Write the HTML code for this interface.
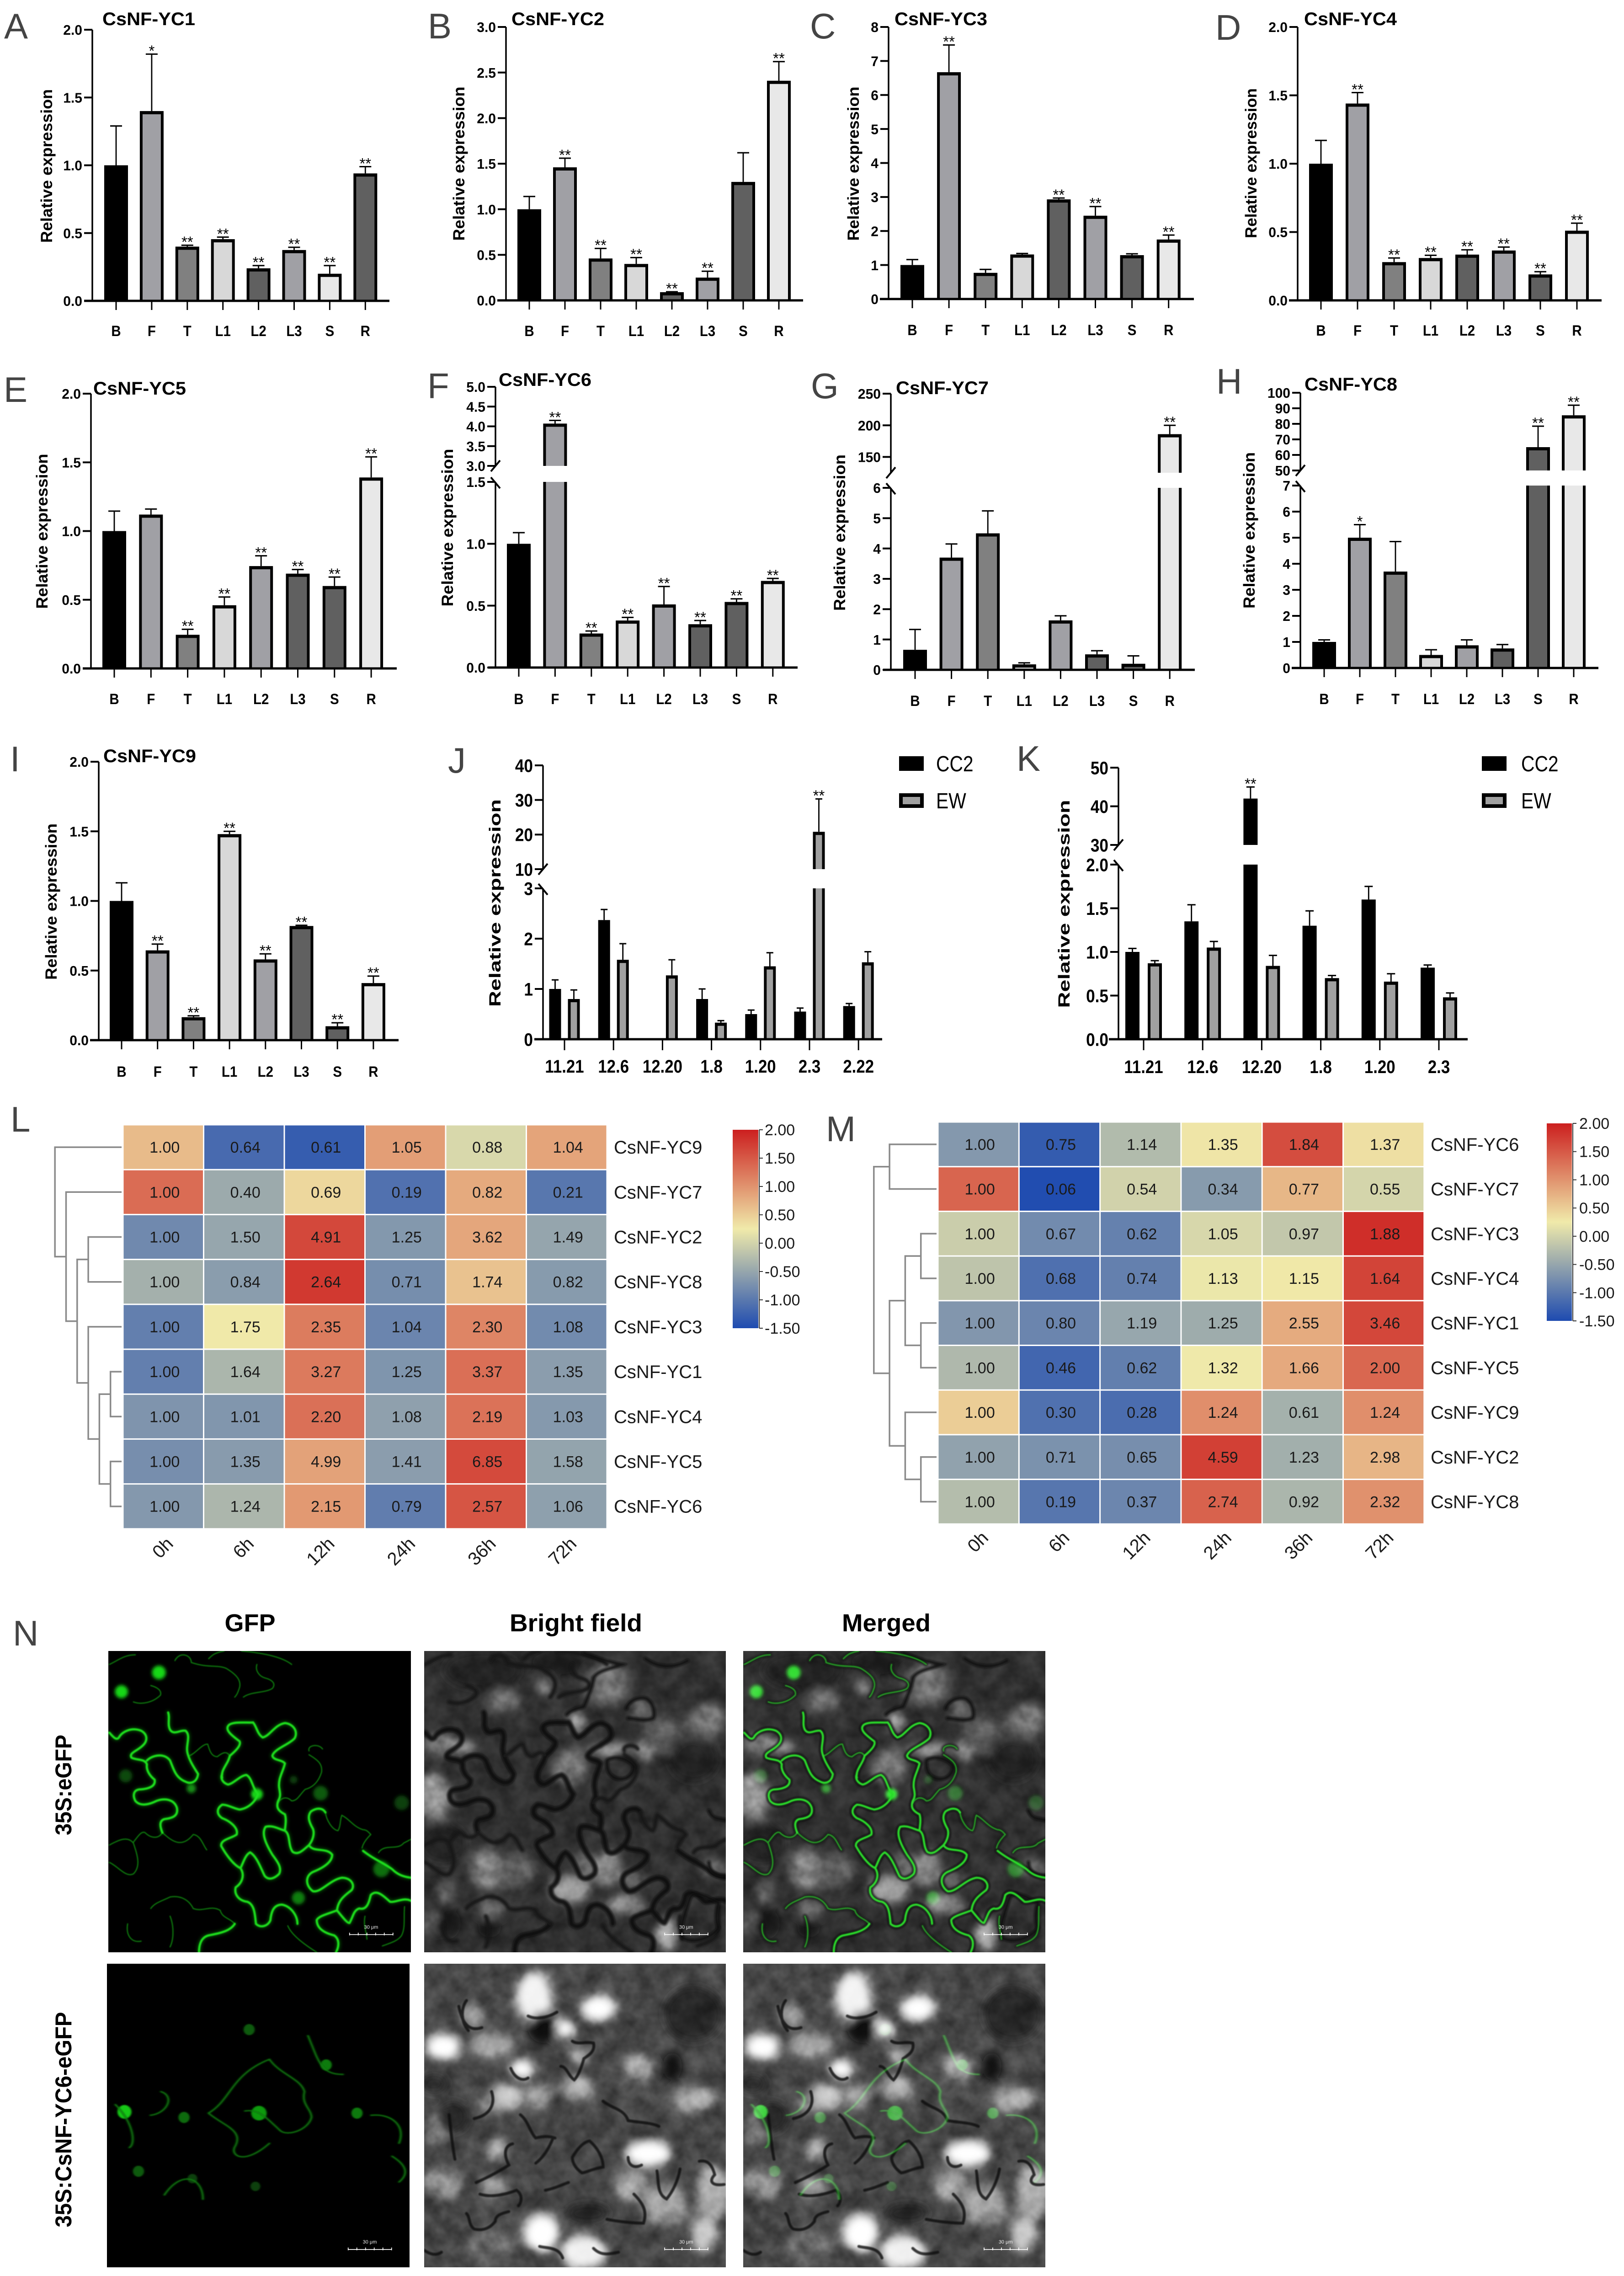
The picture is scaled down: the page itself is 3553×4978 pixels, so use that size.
<!DOCTYPE html>
<html lang="en">
<head>
<meta charset="utf-8">
<title>CsNF-YC expression panels</title>
<style>
html,body{margin:0;padding:0;background:#fff;width:3553px;height:4978px;overflow:hidden}
svg{display:block}
text{font-family:"Liberation Sans",Arial,sans-serif}
.mottle{mix-blend-mode:overlay;opacity:.3}
.screen{mix-blend-mode:screen}
</style>
</head>
<body>
<svg id="root" xmlns="http://www.w3.org/2000/svg" width="3553" height="4978" viewBox="0 0 3553 4978">
<defs>
<linearGradient id="heat-gradient" x1="0" y1="1" x2="0" y2="0">
<stop offset="0" stop-color="#1e4bb0"/><stop offset="0.5" stop-color="#f0eaaa"/><stop offset="1" stop-color="#cc1f1f"/>
</linearGradient>
<filter id="blur-sm" x="-5%" y="-5%" width="110%" height="110%"><feGaussianBlur stdDeviation="2.5"/></filter>
<filter id="blur-wall" x="-5%" y="-5%" width="110%" height="110%"><feGaussianBlur stdDeviation="5"/></filter>
<filter id="blur-md" x="-5%" y="-5%" width="110%" height="110%"><feGaussianBlur stdDeviation="9"/></filter>
<filter id="blur-lg" x="-10%" y="-10%" width="120%" height="120%"><feGaussianBlur stdDeviation="24"/></filter>
<filter id="blur-thin" x="-5%" y="-5%" width="110%" height="110%"><feGaussianBlur stdDeviation="1.4"/></filter>
<filter id="mottle-noise" x="0" y="0" width="100%" height="100%" color-interpolation-filters="sRGB">
<feTurbulence type="fractalNoise" baseFrequency="0.011" numOctaves="3" seed="7"/>
<feColorMatrix type="matrix" values="1.5 0 0 0 -0.25 1.5 0 0 0 -0.25 1.5 0 0 0 -0.25 0 0 0 0 1"/>
</filter>
<g id="gfp1-bright" fill="none" stroke-linecap="round">
<path d="M590 660C580 620 620 590 630 545C660 520 690 490 680 470C640 440 600 410 625 385C650 365 720 375 750 372C770 395 770 430 800 450C840 440 860 385 915 375C960 380 985 420 965 455C930 490 860 510 850 545C855 570 900 565 915 585C905 630 880 660 885 710C890 740 895 755 880 780C870 810 875 830 915 850C925 880 915 920 915 935C945 955 930 1010 955 1045C985 1065 1010 1035 1040 1010C1060 985 1070 950 1060 925C1040 890 1030 860 1050 835C1080 815 1110 815 1125 840"/>
<path d="M915 935C880 925 850 905 815 915C790 950 820 1010 850 1060C880 1100 900 1130 885 1160C860 1185 830 1195 810 1170C790 1130 770 1070 735 1048C710 1060 700 1100 685 1130C650 1115 610 1060 585 1015C580 980 640 975 665 955C675 920 630 885 590 870C560 850 560 820 590 800C620 800 650 820 680 825C720 820 760 790 775 745C745 710 745 660 715 645C680 650 650 690 620 695C590 685 580 660 590 640"/>
<path d="M5 425C20 440 40 470 55 450C70 420 120 395 170 415C205 435 205 470 175 495C150 520 105 530 120 555C150 570 190 560 200 590C195 620 215 650 240 670C245 700 220 715 170 720C130 720 125 750 140 780C165 810 210 800 250 780C290 765 340 770 355 815C365 860 330 870 290 875C260 885 270 920 280 945"/>
<path d="M200 570C230 540 290 530 320 570C340 620 350 660 400 680C430 695 460 680 465 640C440 600 420 570 410 530C400 490 430 440 400 415C370 410 340 440 320 410C305 380 320 350 310 320"/>
<path d="M1040 1010C1060 1050 1130 1020 1160 1060C1160 1100 1110 1130 1060 1150C1020 1170 1020 1220 1060 1250C1100 1260 1150 1190 1210 1180C1260 1180 1280 1220 1260 1245C1220 1275 1190 1300 1185 1350C1130 1370 1090 1380 1080 1400C1080 1450 1130 1470 1170 1480C1200 1500 1195 1540 1180 1568"/>
<path d="M685 1130C710 1170 690 1210 660 1230C650 1270 680 1300 720 1305C760 1320 760 1380 765 1420C790 1445 830 1430 840 1400C845 1350 860 1320 900 1320C950 1330 980 1380 980 1420"/>
<path d="M1185 1350C1210 1380 1240 1420 1250 1415C1270 1380 1270 1350 1300 1340C1340 1350 1350 1310 1360 1270C1390 1240 1420 1270 1460 1305C1490 1310 1530 1280 1568 1300"/>
<path d="M1320 1040C1370 1080 1420 1100 1470 1135C1500 1165 1530 1175 1568 1180"/>
<path d="M470 1568C470 1530 480 1490 520 1480C570 1470 630 1460 655 1420"/>
</g>
<g id="gfp1-dim" fill="none" stroke-linecap="round">
<path d="M5 70C50 50 80 20 140 20M130 265C170 280 230 270 270 230C280 200 240 185 220 180M345 50C370 0 430 20 430 60C520 90 560 70 610 90C660 120 690 150 680 190C670 220 665 230 655 240M770 70C760 100 780 130 810 140C850 150 870 170 850 195C810 220 740 210 700 240M600 0C550 10 540 20 520 40M690 0C800 10 900 30 950 70"/>
<path d="M420 545C450 535 490 480 515 485C525 520 535 550 565 550C590 530 610 520 625 540"/>
<path d="M1125 840C1130 880 1160 930 1190 935C1205 910 1200 880 1210 855C1250 875 1270 915 1320 930C1340 930 1350 945 1360 955C1340 975 1320 1000 1315 1025"/>
<path d="M1040 520C1030 490 1090 480 1110 510M1040 540C1090 570 1110 590 1105 630C1090 680 1060 710 1020 720C990 750 980 780 950 780C920 750 890 770 880 790"/>
<path d="M5 1010C50 985 100 960 130 1000C150 1060 170 1120 130 1160C90 1180 50 1120 5 1100M280 945C260 980 220 975 190 945C170 935 150 970 130 995M280 945C330 990 380 1030 440 955C480 960 490 1010 510 1035"/>
<path d="M655 1420C630 1390 590 1390 580 1350C530 1320 490 1360 440 1340C420 1300 380 1270 320 1280C280 1300 240 1310 220 1340M320 1380C340 1430 340 1500 320 1540"/>
<path d="M1330 1380C1320 1430 1340 1470 1340 1500M1535 1330C1530 1390 1540 1440 1520 1480C1500 1510 1460 1520 1420 1535M1400 1050C1430 1000 1500 1040 1530 1000L1568 980M930 1430C950 1480 1020 1530 1080 1568M100 1420C90 1480 120 1520 170 1510"/>
</g>
<g id="gfp1-nuclei">
<circle cx="262" cy="112" r="36" fill="#18d818"/><circle cx="68" cy="212" r="34" fill="#18d818"/><circle cx="770" cy="745" r="30" fill="#1ee81e"/>
<circle cx="430" cy="715" r="24" fill="#158f15"/><circle cx="985" cy="1285" r="34" fill="#0f7f0f"/><circle cx="90" cy="650" r="34" fill="#0a4a0a"/>
<circle cx="1100" cy="740" r="38" fill="#0a5a0a"/><circle cx="1520" cy="790" r="38" fill="#083f08"/><circle cx="1415" cy="1135" r="42" fill="#0c700c"/><circle cx="960" cy="670" r="20" fill="#083f08"/>
</g>
<g id="gfp2-lines" fill="none" stroke-linecap="round">
<path d="M298 1190C330 1160 330 1100 385 1065C400 1100 430 1110 435 1140C430 1170 445 1180 445 1200C440 1230 410 1245 400 1230C380 1200 370 1180 350 1185M298 1190C320 1220 350 1230 335 1270C330 1290 350 1310 385 1260"/>
<path d="M230 1140C250 1150 240 1190 215 1195M165 1170C190 1210 195 1260 185 1270M235 1380C260 1320 290 1340 290 1390M530 1195C560 1190 580 1220 570 1260M560 1290C580 1310 585 1330 570 1350M440 1010L450 1050C460 1090 470 1100 490 1100"/>
</g>
<g id="gfp2-nuclei">
<ellipse cx="178" cy="1187" rx="10" ry="16" fill="#14c814"/><ellipse cx="263" cy="1200" rx="8" ry="13" fill="#0c6a0c"/><ellipse cx="370" cy="1190" rx="11" ry="17" fill="#0f9a0f"/>
<ellipse cx="510" cy="1190" rx="8" ry="13" fill="#0c7a0c"/><ellipse cx="466" cy="1078" rx="8" ry="13" fill="#0c7a0c"/><ellipse cx="356" cy="996" rx="8" ry="13" fill="#0a5a0a"/>
<ellipse cx="198" cy="1325" rx="8" ry="13" fill="#0a5a0a"/><ellipse cx="275" cy="1342" rx="7" ry="11" fill="#083f08"/><ellipse cx="365" cy="1360" rx="7" ry="11" fill="#083f08"/>
</g>
<g id="bright1-blobs" filter="url(#blur-lg)" opacity="0.7">
<ellipse cx="50" cy="760" rx="90" ry="120" fill="#b8b8b8"/><ellipse cx="90" cy="490" rx="90" ry="50" fill="#b0b0b0"/><ellipse cx="200" cy="500" rx="70" ry="30" fill="#c8c8c8"/>
<ellipse cx="800" cy="370" rx="40" ry="55" fill="#d0d0d0"/><ellipse cx="620" cy="180" rx="40" ry="45" fill="#aaa"/><ellipse cx="760" cy="600" rx="90" ry="100" fill="#909090"/>
<ellipse cx="410" cy="260" rx="90" ry="50" fill="#8c8c8c"/><ellipse cx="340" cy="1130" rx="110" ry="100" fill="#a0a0a0"/><ellipse cx="480" cy="1150" rx="100" ry="100" fill="#6c6c6c"/>
<ellipse cx="950" cy="1130" rx="80" ry="90" fill="#b0b0b0"/><ellipse cx="760" cy="1240" rx="110" ry="70" fill="#d4d4d4"/><ellipse cx="1050" cy="1320" rx="90" ry="50" fill="#c4c4c4"/>
<ellipse cx="1130" cy="310" rx="60" ry="50" fill="#8c8c8c"/><ellipse cx="960" cy="510" rx="100" ry="30" fill="#d0d0d0"/><ellipse cx="1150" cy="520" rx="50" ry="50" fill="#b0b0b0"/>
<ellipse cx="1470" cy="360" rx="90" ry="90" fill="#8c8c8c"/><ellipse cx="1280" cy="440" rx="150" ry="100" fill="#666"/><ellipse cx="950" cy="170" rx="120" ry="120" fill="#808080"/>
<ellipse cx="830" cy="1120" rx="40" ry="70" fill="#909090"/><ellipse cx="1260" cy="1480" rx="50" ry="90" fill="#e8e8e8"/><ellipse cx="1100" cy="1190" rx="60" ry="40" fill="#808080"/>
<ellipse cx="1500" cy="1130" rx="70" ry="40" fill="#7c7c7c"/><ellipse cx="350" cy="1340" rx="70" ry="50" fill="#7c7c7c"/><ellipse cx="30" cy="1410" rx="50" ry="50" fill="#909090"/><ellipse cx="110" cy="1260" rx="50" ry="50" fill="#808080"/>
<ellipse cx="1400" cy="560" rx="130" ry="120" fill="#1c1c1c"/><ellipse cx="300" cy="100" rx="200" ry="100" fill="#1c1c1c"/><ellipse cx="700" cy="60" rx="140" ry="60" fill="#111"/>
<ellipse cx="120" cy="1420" rx="70" ry="80" fill="#111"/><ellipse cx="340" cy="1440" rx="60" ry="50" fill="#111"/><ellipse cx="100" cy="1000" rx="120" ry="100" fill="#222"/>
</g>
<g id="bright1-extra-walls" fill="none" stroke="#0c0c0c" stroke-width="18" stroke-linecap="round" opacity="0.85" filter="url(#blur-wall)">
<path d="M1050 300C1060 260 1120 230 1160 250C1200 280 1200 340 1190 350C1140 370 1090 350 1060 350M830 10C900 40 980 60 1030 70C980 90 900 100 880 140C870 200 850 240 830 290C780 300 760 310 740 330M1150 40C1220 90 1300 90 1370 50"/>
<path d="M950 570C990 540 1060 560 1090 600C1090 650 1040 680 990 660C950 640 950 600 950 570M1380 1290C1400 1240 1450 1270 1530 1310C1520 1350 1510 1400 1530 1440C1500 1490 1400 1530 1340 1490C1330 1440 1350 1380 1380 1290M1480 830C1500 880 1530 870 1568 880M1480 1100C1480 1150 1520 1170 1568 1170"/>
</g>
<g id="bright2-blobs" filter="url(#blur-lg)">
<ellipse cx="100" cy="430" rx="90" ry="70" fill="#fff"/><ellipse cx="570" cy="170" rx="95" ry="130" fill="#f4f4f4"/><ellipse cx="730" cy="335" rx="50" ry="50" fill="#fff"/>
<ellipse cx="905" cy="230" rx="90" ry="70" fill="#fff"/><ellipse cx="510" cy="545" rx="65" ry="50" fill="#fff"/><ellipse cx="1165" cy="980" rx="120" ry="70" fill="#fff"/>
<ellipse cx="610" cy="1390" rx="95" ry="100" fill="#fff"/><ellipse cx="830" cy="1490" rx="120" ry="90" fill="#f0f0f0"/><ellipse cx="1450" cy="1400" rx="70" ry="90" fill="#ccc"/>
<ellipse cx="1400" cy="700" rx="120" ry="60" fill="#b0b0b0"/><ellipse cx="420" cy="690" rx="80" ry="70" fill="#d0d0d0"/><ellipse cx="800" cy="640" rx="80" ry="60" fill="#bbb"/>
<ellipse cx="800" cy="470" rx="50" ry="50" fill="#a0a0a0"/><ellipse cx="590" cy="680" rx="70" ry="60" fill="#b0b0b0"/><ellipse cx="1110" cy="540" rx="80" ry="70" fill="#a0a0a0"/>
<ellipse cx="1500" cy="1180" rx="90" ry="140" fill="#b0b0b0"/><ellipse cx="1080" cy="1140" rx="100" ry="80" fill="#a0a0a0"/><ellipse cx="350" cy="420" rx="120" ry="60" fill="#b0b0b0"/>
<ellipse cx="250" cy="270" rx="60" ry="60" fill="#a0a0a0"/><ellipse cx="380" cy="960" rx="50" ry="60" fill="#b0b0b0"/><ellipse cx="360" cy="1150" rx="70" ry="40" fill="#b0b0b0"/>
<ellipse cx="1250" cy="1250" rx="120" ry="100" fill="#a0a0a0"/><ellipse cx="100" cy="1130" rx="100" ry="80" fill="#8c8c8c"/><ellipse cx="350" cy="1460" rx="130" ry="90" fill="#6c6c6c"/>
<ellipse cx="60" cy="870" rx="50" ry="90" fill="#7c7c7c"/><ellipse cx="320" cy="720" rx="50" ry="50" fill="#7c7c7c"/>
<ellipse cx="1400" cy="260" rx="150" ry="140" fill="#262626"/><ellipse cx="620" cy="330" rx="80" ry="80" fill="#111"/><ellipse cx="1290" cy="530" rx="50" ry="70" fill="#111"/>
<ellipse cx="150" cy="790" rx="80" ry="80" fill="#262626"/><ellipse cx="850" cy="1290" rx="110" ry="50" fill="#222"/><ellipse cx="50" cy="620" rx="70" ry="50" fill="#262626"/>
</g>
<g id="bright2-walls" fill="none" stroke="#101010" stroke-width="15" stroke-linecap="round" opacity="0.8" filter="url(#blur-sm)">
<path d="M270 1130C340 1100 410 1060 440 1040C410 980 420 940 460 930M290 1190C350 1210 430 1190 480 1170C510 1190 510 1230 490 1250M220 1290C240 1310 230 1350 260 1370C300 1380 340 1370 370 1330C370 1300 400 1290 440 1280"/>
<path d="M580 1030C620 1000 650 950 670 900M770 1000C800 950 830 920 860 915C900 950 930 1000 930 1050C870 1060 840 1080 820 1080C790 1060 770 1030 770 1000M930 710C980 750 1040 750 1060 810C1110 820 1180 820 1220 840"/>
<path d="M1210 1070C1220 1130 1210 1190 1260 1215C1290 1180 1320 1120 1330 1060M1430 1020C1480 1010 1500 1050 1510 1090C1480 1120 1490 1150 1560 1140M1090 1190C1140 1240 1160 1280 1140 1340C1080 1340 1000 1330 950 1320"/>
<path d="M630 1170C680 1160 720 1140 750 1130M450 540C470 590 510 610 540 590M180 220C200 320 240 350 300 330M770 400C800 420 840 400 880 410C890 450 860 470 830 490C820 530 800 580 780 600C750 580 740 530 710 530M0 1480C30 1500 60 1510 90 1490"/>
<path d="M220 190C190 230 190 300 230 345M540 270C580 290 640 280 690 250M500 780C540 810 550 870 580 900C620 890 650 890 680 900M350 660C370 720 350 780 260 800M130 780C140 880 150 960 160 1010M1060 1000C1060 1040 1090 1060 1130 1040M600 1460C630 1470 700 1460 720 1520M880 1470C920 1510 960 1500 1010 1490"/>
</g>
<g id="scale-ticks" stroke="#fff" stroke-width="4" fill="none">
<path d="M1250 1476H1475M1250 1466V1480M1295 1466V1480M1340 1466V1480M1385 1466V1480M1430 1466V1480M1475 1466V1480"/>
</g>
</defs>

<g id="charts"></g>

<g>
<text x="28" y="3599" font-size="78" fill="#444">N</text>
<text x="547" y="3568" font-size="54" font-weight="700" text-anchor="middle">GFP</text>
<text x="1260" y="3568" font-size="54" font-weight="700" text-anchor="middle" textLength="290" lengthAdjust="spacingAndGlyphs">Bright field</text>
<text x="1939" y="3568" font-size="54" font-weight="700" text-anchor="middle" textLength="194" lengthAdjust="spacingAndGlyphs">Merged</text>
<text transform="translate(156,3904) rotate(-90)" font-size="50" font-weight="700" text-anchor="middle" textLength="220" lengthAdjust="spacingAndGlyphs">35S:eGFP</text>
<text transform="translate(156,4636) rotate(-90)" font-size="50" font-weight="700" text-anchor="middle" textLength="471" lengthAdjust="spacingAndGlyphs">35S:CsNF-YC6-eGFP</text>

<svg x="237" y="3611" width="662" height="659" viewBox="0 0 1568 1568" preserveAspectRatio="none">
<rect width="1568" height="1568" fill="#000"/>
<use href="#gfp1-nuclei" filter="url(#blur-md)"/>
<use href="#gfp1-dim" stroke="#0b7d0b" stroke-width="6" filter="url(#blur-sm)"/>
<use href="#gfp1-bright" stroke="#0da00d" stroke-width="20" opacity="0.5" filter="url(#blur-md)"/>
<use href="#gfp1-bright" stroke="#1ee01e" stroke-width="11" filter="url(#blur-sm)"/>
<use href="#scale-ticks"/>
<text x="1362" y="1445" font-size="26" fill="#eee" text-anchor="middle">30 μm</text>
</svg>

<svg x="928" y="3611" width="660" height="659" viewBox="0 0 1568 1568" preserveAspectRatio="none">
<g style="isolation:isolate">
<rect width="1568" height="1568" fill="#303030"/>
<use href="#bright1-blobs"/>
<rect class="mottle" width="1568" height="1568" filter="url(#mottle-noise)"/>
<g filter="url(#blur-wall)" opacity="0.9"><use href="#gfp1-bright" stroke="#0a0a0a" stroke-width="26"/><use href="#gfp1-dim" stroke="#121212" stroke-width="20"/></g>
<use href="#bright1-extra-walls"/>
</g>
<use href="#scale-ticks"/>
<text x="1362" y="1445" font-size="26" fill="#eee" text-anchor="middle">30 μm</text>
</svg>

<svg x="1626" y="3611" width="661" height="659" viewBox="0 0 1568 1568" preserveAspectRatio="none">
<g style="isolation:isolate">
<rect width="1568" height="1568" fill="#303030"/>
<use href="#bright1-blobs"/>
<rect class="mottle" width="1568" height="1568" filter="url(#mottle-noise)"/>
<g filter="url(#blur-wall)" opacity="0.9"><use href="#gfp1-bright" stroke="#0a0a0a" stroke-width="26"/><use href="#gfp1-dim" stroke="#121212" stroke-width="20"/></g>
<use href="#bright1-extra-walls"/>
<g class="screen">
<use href="#gfp1-nuclei" filter="url(#blur-md)"/>
<use href="#gfp1-dim" stroke="#0d9a0d" stroke-width="7" filter="url(#blur-sm)"/>
<use href="#gfp1-bright" stroke="#1ed81e" stroke-width="11" filter="url(#blur-sm)"/>
</g>
</g>
<use href="#scale-ticks"/>
<text x="1362" y="1445" font-size="26" fill="#eee" text-anchor="middle">30 μm</text>
</svg>

<svg x="234" y="4295" width="662" height="664" viewBox="153 843 432 705" preserveAspectRatio="none">
<rect x="153" y="843" width="432" height="705" fill="#000"/>
<use href="#gfp2-nuclei" filter="url(#blur-thin)"/>
<use href="#gfp2-lines" stroke="#0a780a" stroke-width="3" filter="url(#blur-thin)"/>
<g transform="translate(153,843) scale(0.2755,0.4496)">
<use href="#scale-ticks"/>
<text x="1362" y="1445" font-size="26" fill="#eee" text-anchor="middle">30 μm</text>
</g>
</svg>

<svg x="928" y="4295" width="660" height="664" viewBox="0 0 1568 1568" preserveAspectRatio="none">
<g style="isolation:isolate">
<rect width="1568" height="1568" fill="#464646"/>
<use href="#bright2-blobs"/>
<rect class="mottle" width="1568" height="1568" filter="url(#mottle-noise)"/>
<use href="#bright2-walls"/>
</g>
<use href="#scale-ticks"/>
<text x="1362" y="1445" font-size="26" fill="#eee" text-anchor="middle">30 μm</text>
</svg>

<svg x="1626" y="4295" width="661" height="664" viewBox="0 0 1568 1568" preserveAspectRatio="none">
<g style="isolation:isolate">
<rect width="1568" height="1568" fill="#464646"/>
<use href="#bright2-blobs"/>
<rect class="mottle" width="1568" height="1568" filter="url(#mottle-noise)"/>
<use href="#bright2-walls"/>
<g class="screen" transform="scale(3.6296,2.2241) translate(-153,-843)">
<use href="#gfp2-nuclei" filter="url(#blur-thin)"/>
<use href="#gfp2-lines" stroke="#0d8d0d" stroke-width="3" filter="url(#blur-thin)"/>
</g>
</g>
<use href="#scale-ticks"/>
<text x="1362" y="1445" font-size="26" fill="#eee" text-anchor="middle">30 μm</text>
</svg>
</g>
</svg>

<script>
// ---------- chart data ----------
const tissueCategories = ['B','F','T','L1','L2','L3','S','R'];
const groupDatesJ = ['11.21','12.6','12.20','1.8','1.20','2.3','2.22'];
const groupDatesK = ['11.21','12.6','12.20','1.8','1.20','2.3'];
const seriesNames = ['CC2','EW'];

const yc1Values = [1.0,1.4,0.4,0.455,0.24,0.375,0.2,0.94];
const yc1Errors = [1.29,1.82,0.41,0.47,0.26,0.395,0.26,0.99];
const yc1Stars = ['','*','**','**','**','**','**','**'];
const yc1Ticks = ['0.0','0.5','1.0','1.5','2.0'];

const yc2Values = [1.0,1.46,0.46,0.4,0.09,0.25,1.3,2.41];
const yc2Errors = [1.14,1.56,0.57,0.47,0.095,0.32,1.62,2.62];
const yc2Stars = ['','**','**','**','**','**','','**'];
const yc2Ticks = ['0.0','0.5','1.0','1.5','2.0','2.5','3.0'];

const yc3Values = [1.0,6.67,0.77,1.31,2.93,2.45,1.29,1.75];
const yc3Errors = [1.16,7.47,0.87,1.34,2.97,2.72,1.33,1.88];
const yc3Stars = ['','**','','','**','**','','**'];
const yc3Ticks = ['0','1','2','3','4','5','6','7','8'];

const yc4Values = [1.0,1.44,0.28,0.31,0.335,0.365,0.19,0.51];
const yc4Errors = [1.17,1.52,0.31,0.33,0.37,0.39,0.21,0.565];
const yc4Stars = ['','**','**','**','**','**','**','**'];
const yc4Ticks = ['0.0','0.5','1.0','1.5','2.0'];

const yc5Values = [1.0,1.12,0.245,0.46,0.745,0.69,0.6,1.39];
const yc5Errors = [1.145,1.16,0.285,0.52,0.82,0.72,0.665,1.54];
const yc5Stars = ['','','**','**','**','**','**','**'];
const yc5Ticks = ['0.0','0.5','1.0','1.5','2.0'];

const yc6Values = [1.0,4.07,0.275,0.38,0.51,0.35,0.53,0.7];
const yc6Errors = [1.09,4.15,0.295,0.405,0.655,0.38,0.555,0.72];
const yc6Stars = ['','**','**','**','**','**','**','**'];
const yc6LowerTicks = ['0.0','0.5','1.0','1.5'];
const yc6UpperTicks = ['3.0','3.5','4.0','4.5','5.0'];

const yc7Values = [0.66,3.7,4.5,0.18,1.63,0.51,0.2,186];
const yc7Errors = [1.33,4.15,5.24,0.23,1.78,0.63,0.46,200];
const yc7Stars = ['','','','','','','','**'];
const yc7LowerTicks = ['0','1','2','3','4','5','6'];
const yc7UpperTicks = ['150','200','250'];

const yc8Values = [1.0,5.0,3.7,0.5,0.87,0.75,65,85.5];
const yc8Errors = [1.08,5.5,4.85,0.7,1.08,0.9,78.5,92];
const yc8Stars = ['','*','','','','','**','**'];
const yc8LowerTicks = ['0','1','2','3','4','5','6','7'];
const yc8UpperTicks = ['50','60','70','80','90','100'];

const yc9Values = [1.0,0.645,0.165,1.48,0.58,0.82,0.1,0.41];
const yc9Errors = [1.13,0.69,0.175,1.5,0.62,0.825,0.125,0.46];
const yc9Stars = ['','**','**','**','**','**','**','**'];
const yc9Ticks = ['0.0','0.5','1.0','1.5','2.0'];

const jCc2Values = [1.0,2.37,0,0.8,0.5,0.55,0.66];
const jCc2Errors = [1.18,2.58,0,1.0,0.58,0.62,0.71];
const jEwValues = [0.8,1.58,1.27,0.33,1.45,20.8,1.53];
const jEwErrors = [0.98,1.9,1.58,0.37,1.72,30.3,1.74];
const jEwStars = ['','','','','','**',''];
const jCc2Stars = ['','','','','','',''];
const jLowerTicks = ['0','1','2','3'];
const jUpperTicks = ['10','20','30','40'];

const kCc2Values = [1.0,1.35,42,1.3,1.6,0.82];
const kCc2Errors = [1.04,1.54,45,1.47,1.75,0.85];
const kEwValues = [0.87,1.05,0.84,0.7,0.66,0.48];
const kEwErrors = [0.9,1.12,0.96,0.73,0.75,0.53];
const kCc2Stars = ['','','**','','',''];
const kEwStars = ['','','','','',''];
const kLowerTicks = ['0.0','0.5','1.0','1.5','2.0'];
const kUpperTicks = ['30','40','50'];

const heatTimes = ['0h','6h','12h','24h','36h','72h'];
const heatScaleTicks = ['2.00','1.50','1.00','0.50','0.00','-0.50','-1.00','-1.50'];

const heatLGenes = ['CsNF-YC9','CsNF-YC7','CsNF-YC2','CsNF-YC8','CsNF-YC3','CsNF-YC1','CsNF-YC4','CsNF-YC5','CsNF-YC6'];
const heatLYc9 = [1.00,0.64,0.61,1.05,0.88,1.04];
const heatLYc7 = [1.00,0.40,0.69,0.19,0.82,0.21];
const heatLYc2 = [1.00,1.50,4.91,1.25,3.62,1.49];
const heatLYc8 = [1.00,0.84,2.64,0.71,1.74,0.82];
const heatLYc3 = [1.00,1.75,2.35,1.04,2.30,1.08];
const heatLYc1 = [1.00,1.64,3.27,1.25,3.37,1.35];
const heatLYc4 = [1.00,1.01,2.20,1.08,2.19,1.03];
const heatLYc5 = [1.00,1.35,4.99,1.41,6.85,1.58];
const heatLYc6 = [1.00,1.24,2.15,0.79,2.57,1.06];
const heatLRows = [heatLYc9,heatLYc7,heatLYc2,heatLYc8,heatLYc3,heatLYc1,heatLYc4,heatLYc5,heatLYc6];
const heatLMerges = [[7,8,1],[5,6,1],[9,10,2],[4,11,3],[2,3,3],[13,12,4],[1,14,5],[0,15,6]];

const heatMGenes = ['CsNF-YC6','CsNF-YC7','CsNF-YC3','CsNF-YC4','CsNF-YC1','CsNF-YC5','CsNF-YC9','CsNF-YC2','CsNF-YC8'];
const heatMYc6 = [1.00,0.75,1.14,1.35,1.84,1.37];
const heatMYc7 = [1.00,0.06,0.54,0.34,0.77,0.55];
const heatMYc3 = [1.00,0.67,0.62,1.05,0.97,1.88];
const heatMYc4 = [1.00,0.68,0.74,1.13,1.15,1.64];
const heatMYc1 = [1.00,0.80,1.19,1.25,2.55,3.46];
const heatMYc5 = [1.00,0.46,0.62,1.32,1.66,2.00];
const heatMYc9 = [1.00,0.30,0.28,1.24,0.61,1.24];
const heatMYc2 = [1.00,0.71,0.65,4.59,1.23,2.98];
const heatMYc8 = [1.00,0.19,0.37,2.74,0.92,2.32];
const heatMRows = [heatMYc6,heatMYc7,heatMYc3,heatMYc4,heatMYc1,heatMYc5,heatMYc9,heatMYc2,heatMYc8];
const heatMMerges = [[0,1,3],[2,3,1],[4,5,1],[10,11,2],[7,8,1],[6,13,2],[12,14,3],[9,15,4]];

// ---------- styles & layout (separate from data) ----------
const K='#000',A0='#a0a0a5',G8='#808080',D8='#d8d8d8',G6='#606060',E8='#e8e8e8';
const paletteA = [K,A0,G8,D8,G6,A0,E8,G6];
const paletteB = [K,A0,G8,D8,G6,A0,G6,E8];
const paletteE = [K,A0,G8,D8,A0,G6,G6,E8];

const barPanels = [
 {name:'a',letter:'A',lx:9,ly:84,title:'CsNF-YC1',tx:224,ty:55,values:yc1Values,errors:yc1Errors,stars:yc1Stars,ticks:yc1Ticks,colors:paletteA,ax:202,x0:254,step:77.9,b0:184,b1:852,y0:658,yLowerTop:65,yLabelX:102,yLabelC:363,yLabelLen:336,xLabelY:735},
 {name:'b',letter:'B',lx:936,ly:84,title:'CsNF-YC2',tx:1119,ty:55,values:yc2Values,errors:yc2Errors,stars:yc2Stars,ticks:yc2Ticks,colors:paletteB,ax:1107,x0:1158,step:78,b0:1088,b1:1757,y0:657,yLowerTop:59,yLabelX:1004,yLabelC:358,yLabelLen:337,xLabelY:735},
 {name:'c',letter:'C',lx:1772,ly:84,title:'CsNF-YC3',tx:1957,ty:55,values:yc3Values,errors:yc3Errors,stars:yc3Stars,ticks:yc3Ticks,colors:paletteB,ax:1944,x0:1996,step:80.1,b0:1925,b1:2612,y0:654,yLowerTop:59,yLabelX:1867,yLabelC:358,yLabelLen:337,xLabelY:733},
 {name:'d',letter:'D',lx:2659,ly:87,title:'CsNF-YC4',tx:2853,ty:55,values:yc4Values,errors:yc4Errors,stars:yc4Stars,ticks:yc4Ticks,colors:paletteB,ax:2839,x0:2890,step:80,b0:2820,b1:3504,y0:657,yLowerTop:59,yLabelX:2737,yLabelC:357,yLabelLen:328,xLabelY:734},
 {name:'e',letter:'E',lx:8,ly:879,title:'CsNF-YC5',tx:204,ty:863,values:yc5Values,errors:yc5Errors,stars:yc5Stars,ticks:yc5Ticks,colors:paletteE,ax:199,x0:250,step:80.3,b0:181,b1:868,y0:1462,yLowerTop:861,yLabelX:92,yLabelC:1162,yLabelLen:339,xLabelY:1540},
 {name:'f',letter:'F',lx:935,ly:871,title:'CsNF-YC6',tx:1091,ty:844,values:yc6Values,errors:yc6Errors,stars:yc6Stars,ticks:yc6LowerTicks,upperTicks:yc6UpperTicks,colors:paletteE,ax:1084,x0:1135,step:79.4,b0:1068,b1:1745,y0:1460,yLowerTop:1054,upperMin:3,upperMax:5,yUpperBottom:1019,yTop:846,yLabelX:979,yLabelC:1154,yLabelLen:345,xLabelY:1540},
 {name:'g',letter:'G',lx:1774,ly:871,title:'CsNF-YC7',tx:1960,ty:862,values:yc7Values,errors:yc7Errors,stars:yc7Stars,ticks:yc7LowerTicks,upperTicks:yc7UpperTicks,colors:paletteE,ax:1949,x0:2002,step:79.6,b0:1932,b1:2614,y0:1465,yLowerTop:1067,upperMin:125,upperMax:250,yUpperBottom:1034,yTop:861,yLabelX:1837,yLabelC:1165,yLabelLen:342,xLabelY:1544},
 {name:'h',letter:'H',lx:2661,ly:861,title:'CsNF-YC8',tx:2854,ty:854,values:yc8Values,errors:yc8Errors,stars:yc8Stars,ticks:yc8LowerTicks,upperTicks:yc8UpperTicks,colors:paletteE,ax:2845,x0:2897,step:78,b0:2826,b1:3497,y0:1461,yLowerTop:1062,upperMin:50,upperMax:100,yUpperBottom:1029,yTop:859,yLabelX:2733,yLabelC:1160,yLabelLen:342,xLabelY:1540},
 {name:'i',letter:'I',lx:22,ly:1687,title:'CsNF-YC9',tx:226,ty:1667,values:yc9Values,errors:yc9Errors,stars:yc9Stars,ticks:yc9Ticks,colors:paletteE,ax:216,x0:266,step:78.7,b0:197,b1:872,y0:2275,yLowerTop:1666,yLabelX:112,yLabelC:1972,yLabelLen:342,xLabelY:2355}
];

const groupPanels = [
 {name:'j',letter:'J',lx:980,ly:1690,dates:groupDatesJ,cc2:jCc2Values,cc2Err:jCc2Errors,cc2Stars:jCc2Stars,ew:jEwValues,ewErr:jEwErrors,ewStars:jEwStars,ticks:jLowerTicks,upperTicks:jUpperTicks,ax:1188,x0:1235,step:107.2,off:20.5,bw:26,cap:15,b0:1169,b1:1930,y0:2273,yLowerTop:1943,upperMin:10,upperMax:40,yUpperBottom:1901,yTop:1674,yLabelX:1083,yLabelC:1975,yLabelLen:454,xLabelY:2346,legX:1967,legTx:2048},
 {name:'k',letter:'K',lx:2224,ly:1686,dates:groupDatesK,cc2:kCc2Values,cc2Err:kCc2Errors,cc2Stars:kCc2Stars,ew:kEwValues,ewErr:kEwErrors,ewStars:kEwStars,ticks:kLowerTicks,upperTicks:kUpperTicks,ax:2447,x0:2502,step:129.2,off:24.5,bw:31,cap:18,b0:2426,b1:3211,y0:2273,yLowerTop:1891,upperMin:30,upperMax:50,yUpperBottom:1848,yTop:1679,yLabelX:2328,yLabelC:1977,yLabelLen:455,xLabelY:2347,legX:3242,legTx:3328}
];

const heatPanels = [
 {name:'l',letter:'L',lx:23,ly:2475,genes:heatLGenes,rows:heatLRows,merges:heatLMerges,x:269,y:2460,cw:176.5,rh:98.2,gx:1343,timeY:3379,barX:1603,barW:56,barTop:2471,barBottom:2905,barLabelX:1673,leafX:266,levelW:24.3},
 {name:'m',letter:'M',lx:1807,ly:2496,genes:heatMGenes,rows:heatMRows,merges:heatMMerges,x:2052,y:2454,cw:177.3,rh:97.7,gx:3130,timeY:3366,barX:3384,barW:55,barTop:2457,barBottom:2889,barLabelX:3455,leafX:2049,levelW:34.3}
];

// ---------- helpers ----------
const NS = 'http://www.w3.org/2000/svg';
const chartsRoot = document.getElementById('charts');
function make(tag, attrs, parent){
  const n = document.createElementNS(NS, tag);
  for (const k in attrs) n.setAttribute(k, attrs[k]);
  parent.appendChild(n);
  return n;
}
function writeText(parent, x, y, str, o){
  o = o || {};
  const t = document.createElementNS(NS, 'text');
  const sx = o.sx || 1;
  const rot = o.rot ? ' rotate(' + o.rot + ')' : '';
  t.setAttribute('transform', 'translate(' + x + ',' + y + ')' + rot + (sx !== 1 ? ' scale(' + sx + ',1)' : ''));
  t.setAttribute('font-size', o.size || 30);
  t.setAttribute('font-weight', o.weight || 400);
  t.setAttribute('text-anchor', o.anchor || 'start');
  t.setAttribute('fill', o.fill || '#000');
  if (o.len) { t.setAttribute('textLength', o.len); t.setAttribute('lengthAdjust', 'spacingAndGlyphs'); }
  t.textContent = str;
  parent.appendChild(t);
  return t;
}
function linear(d0, d1, r0, r1){ return v => r0 + (v - d0) * (r1 - r0) / (d1 - d0); }
function yScale(p){
  const lowerMax = parseFloat(p.ticks[p.ticks.length - 1]);
  const lower = linear(0, lowerMax, p.y0, p.yLowerTop);
  if (p.upperMin === undefined) return lower;
  const upper = linear(p.upperMin, p.upperMax, p.yUpperBottom, p.yTop);
  return v => v > lowerMax ? upper(v) : lower(v);
}
function drawYAxis(g, p, y, tickSize, tickSx){
  const lowerMax = parseFloat(p.ticks[p.ticks.length - 1]);
  const axisLower = make('line', {x1:p.ax, x2:p.ax, y1:p.y0, y2:y(lowerMax), stroke:'#000','stroke-width':3.5}, g);
  
  
  const all = p.ticks.concat(p.upperTicks || []);
  all.forEach(lbl => {
    const v = parseFloat(lbl);
    const py = y(v);
    const tk = make('line', {x1:p.ax - 18, x2:p.ax, y1:py, y2:py, stroke:'#000','stroke-width':4}, g);
    
    
    const tl = writeText(g, p.ax - 22, py + tickSize * 0.36, lbl, {size:tickSize, weight:700, anchor:'end', sx:tickSx});
    
    
  });
  if (p.upperMin !== undefined) {
    const axisUpper = make('line', {x1:p.ax, x2:p.ax, y1:p.yUpperBottom, y2:p.yTop, stroke:'#000','stroke-width':3.5}, g);
    
    
    const b1 = make('line', {x1:p.ax - 10, x2:p.ax + 10, y1:p.yUpperBottom + 12, y2:p.yUpperBottom - 12, stroke:'#000','stroke-width':4}, g);
    
    
    const b2 = make('line', {x1:p.ax - 10, x2:p.ax + 10, y1:y(lowerMax) - 10, y2:y(lowerMax) + 14, stroke:'#000','stroke-width':4}, g);
    
    
  }
  const base = make('line', {x1:p.b0, x2:p.b1, y1:p.y0, y2:p.y0, stroke:'#000','stroke-width':5}, g);
  
  
}
function barPiece(g, cx, w, yTopPx, yBottomPx, fill, capped){
  const outer = make('rect', {x:cx - w/2, y:yTopPx, width:w, height:Math.max(0, yBottomPx - yTopPx), fill:'#000'}, g);
  
  
  const top = capped ? yTopPx + 7 : yTopPx;
  const inner = make('rect', {x:cx - w/2 + 6, y:top, width:Math.max(0, w - 12), height:Math.max(0, yBottomPx - top), fill:fill}, g);
  
  
}
function drawBar(g, p, y, cx, w, v, fill){
  if (v <= 0) return;
  const lowerMax = parseFloat(p.ticks[p.ticks.length - 1]);
  if (p.upperMin !== undefined && v > lowerMax) {
    barPiece(g, cx, w, y(lowerMax), p.y0, fill, false);
    barPiece(g, cx, w, y(v), p.yUpperBottom, fill, true);
  } else {
    barPiece(g, cx, w, y(v), p.y0, fill, true);
  }
}
function drawError(g, y, cx, v, e, cap){
  if (e <= 0) return;
  const stem = make('line', {x1:cx, x2:cx, y1:y(v), y2:y(e), stroke:'#000','stroke-width':2.8}, g);
  
  
  const capLine = make('line', {x1:cx - cap/2, x2:cx + cap/2, y1:y(e), y2:y(e), stroke:'#000','stroke-width':3}, g);
  
  
}
function drawStar(g, y, cx, e, s, size){
  if (!s) return;
  const st = writeText(g, cx, y(e) + size * 0.13, s, {size:size, anchor:'middle'});
  
  
}

// ---------- single-series tissue panels ----------
barPanels.forEach(p => {
  const g = make('g', {}, chartsRoot);
  
  
  const y = yScale(p);
  const x = i => p.x0 + i * p.step;
  const letter = writeText(g, p.lx, p.ly, p.letter, {size:78, fill:'#444'});
  
  
  const title = writeText(g, p.tx, p.ty, p.title, {size:40, weight:700, len:203});
  
  
  const yTitle = writeText(g, p.yLabelX + 12, p.yLabelC, 'Relative expression', {size:35, weight:700, anchor:'middle', rot:-90, len:p.yLabelLen});
  
  
  tissueCategories.forEach((c, i) => {
    drawBar(g, p, y, x(i), 52, p.values[i], p.colors[i]);
    drawError(g, y, x(i), p.values[i], p.errors[i], 26);
    drawStar(g, y, x(i), p.errors[i], p.stars[i], 33);
    const xt = make('line', {x1:x(i), x2:x(i), y1:p.y0, y2:p.y0 + 20, stroke:'#000','stroke-width':3}, g);
    
    
    const xl = writeText(g, x(i), p.xLabelY, c, {size:32, weight:700, anchor:'middle', sx:0.92});
    
    
  });
  drawYAxis(g, p, y, 31, 0.97);
});

// ---------- grouped panels J, K ----------
groupPanels.forEach(p => {
  const g = make('g', {}, chartsRoot);
  
  
  const y = yScale(p);
  const x = i => p.x0 + i * p.step;
  const letter = writeText(g, p.lx, p.ly, p.letter, {size:78, fill:'#444'});
  
  
  const yTitle = writeText(g, p.yLabelX + 12, p.yLabelC, 'Relative expression', {size:35, weight:700, anchor:'middle', rot:-90, len:p.yLabelLen});
  
  
  p.dates.forEach((d, i) => {
    drawBar(g, p, y, x(i) - p.off, p.bw, p.cc2[i], '#000');
    drawError(g, y, x(i) - p.off, p.cc2[i], p.cc2Err[i], p.cap);
    drawStar(g, y, x(i) - p.off, p.cc2Err[i], p.cc2Stars[i], 33);
    drawBar(g, p, y, x(i) + p.off, p.bw, p.ew[i], '#a0a0a0');
    drawError(g, y, x(i) + p.off, p.ew[i], p.ewErr[i], p.cap);
    drawStar(g, y, x(i) + p.off, p.ewErr[i], p.ewStars[i], 33);
    const xt = make('line', {x1:x(i), x2:x(i), y1:p.y0, y2:p.y0 + 24, stroke:'#000','stroke-width':3}, g);
    
    
    const xl = writeText(g, x(i), p.xLabelY, d, {size:40, weight:700, anchor:'middle', sx:0.87});
    
    
  });
  drawYAxis(g, p, y, 40, 0.88);
  seriesNames.forEach((s, i) => {
    const ly = 1654 + i * 81;
    const sw = make('rect', {x:p.legX + 4, y:ly + 4, width:46, height:24, fill:i === 0 ? '#000' : '#a0a0a0', stroke:'#000','stroke-width':8}, g);
    
    
    const lt = writeText(g, p.legTx, ly + 33, s, {size:48, sx:0.85});
    
    
  });
});

// ---------- heatmaps ----------
const BLUE=[30,75,176], YEL=[240,234,170], RED=[204,31,31];
function heatColor(z){
  const t = (Math.max(-1.5, Math.min(2, z)) + 1.5) / 3.5;
  const a = t < 0.5 ? BLUE : YEL, b = t < 0.5 ? YEL : RED, f = t < 0.5 ? t * 2 : (t - 0.5) * 2;
  return 'rgb(' + a.map((c, i) => Math.round(c + (b[i] - c) * f)).join(',') + ')';
}
function zScores(row){
  const m = row.reduce((s, v) => s + v, 0) / row.length;
  const sd = Math.sqrt(row.reduce((s, v) => s + (v - m) * (v - m), 0) / (row.length - 1)) || 1;
  return row.map(v => (v - m) / sd);
}
heatPanels.forEach(p => {
  const g = make('g', {}, chartsRoot);
  
  
  const letter = writeText(g, p.lx, p.ly, p.letter, {size:78, fill:'#444'});
  
  
  const colX = i => p.x + i * p.cw;
  const rowY = i => p.y + i * p.rh;
  p.rows.forEach((row, r) => {
    const zs = zScores(row);
    row.forEach((v, c) => {
      const cell = make('rect', {x:colX(c) + 1.5, y:rowY(r) + 1.5, width:p.cw - 3, height:p.rh - 3, fill:heatColor(zs[c])}, g);
      
      
      const val = writeText(g, colX(c) + p.cw / 2 + 3, rowY(r) + p.rh / 2 + 12, v.toFixed(2), {size:34, anchor:'middle', fill:'#1a1a1a'});
      
      
    });
    const gene = writeText(g, p.gx, rowY(r) + p.rh / 2 + 14, p.genes[r], {size:40, fill:'#1a1a1a'});
    
    
  });
  heatTimes.forEach((t, c) => {
    const lab = writeText(g, colX(c) + p.cw / 2 + 24, p.timeY, t, {size:40, anchor:'end', rot:-45, fill:'#1a1a1a'});
    
    
  });
  // dendrogram: node = leaf index or merge index offset by leaf count
  const nodes = p.genes.map((_, i) => ({x:p.leafX, y:rowY(i) + p.rh / 2}));
  let d = '';
  p.merges.forEach(m => {
    const a = nodes[m[0]], b = nodes[m[1]];
    const nx = p.leafX - m[2] * p.levelW;
    d += 'M' + a.x + ' ' + a.y + 'H' + nx + 'V' + b.y + 'H' + b.x;
    nodes.push({x:nx, y:(a.y + b.y) / 2});
  });
  const tree = make('path', {d:d, fill:'none', stroke:'#8a8a8a','stroke-width':3.5}, g);
  
  
  // colour scale
  const bar = make('rect', {x:p.barX, y:p.barTop, width:p.barW, height:p.barBottom - p.barTop, fill:'url(#heat-gradient)'}, g);
  
  
  const spine = make('line', {x1:p.barX + p.barW + 2, x2:p.barX + p.barW + 2, y1:p.barTop, y2:p.barBottom, stroke:'#333','stroke-width':2}, g);
  
  
  const scaleY = linear(2, -1.5, p.barTop, p.barBottom);
  heatScaleTicks.forEach(s => {
    const py = scaleY(parseFloat(s));
    const tk = make('line', {x1:p.barX + p.barW + 2, x2:p.barX + p.barW + 10, y1:py, y2:py, stroke:'#333','stroke-width':2}, g);
    
    
    const tl = writeText(g, p.barLabelX, py + 12, s, {size:34, fill:'#1a1a1a'});
    
    
  });
});
</script>
</body>
</html>
